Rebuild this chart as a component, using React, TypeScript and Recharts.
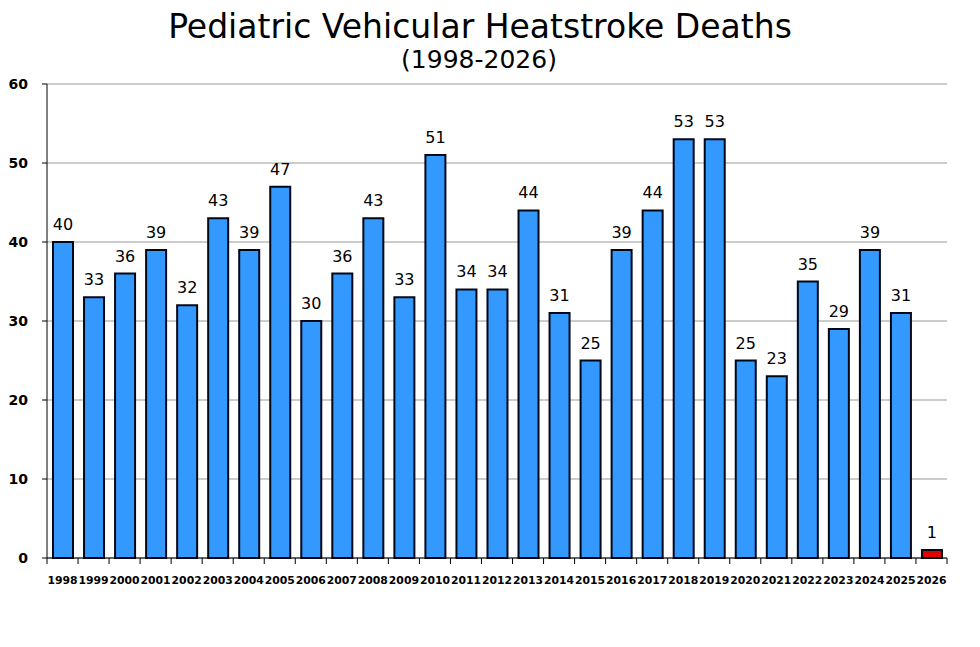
import React from "react";
import {
  BarChart,
  Bar,
  XAxis,
  YAxis,
  CartesianGrid,
  LabelList,
  Cell,
} from "recharts";

const years = [
  "1998", "1999", "2000", "2001", "2002", "2003", "2004", "2005", "2006", "2007",
  "2008", "2009", "2010", "2011", "2012", "2013", "2014", "2015", "2016", "2017",
  "2018", "2019", "2020", "2021", "2022", "2023", "2024", "2025", "2026",
];

const deaths = [
  40, 33, 36, 39, 32, 43, 39, 47, 30, 36,
  43, 33, 51, 34, 34, 44, 31, 25, 39, 44,
  53, 53, 25, 23, 35, 29, 39, 31, 1,
];

const yTicks = [0, 10, 20, 30, 40, 50, 60];

const data = years.map((year, i) => ({ year, deaths: deaths[i] }));

const FONT = "'DejaVu Sans', Verdana, sans-serif";
const PLOT_W = 900;
const BAND = PLOT_W / years.length;

// category ticks sit between the bars, like the original spreadsheet chart
function YearTick(props: any) {
  const { x, y, payload, index } = props;
  const half = BAND / 2;
  return (
    <g>
      <line x1={x - half} y1={y - 8} x2={x - half} y2={y - 2} stroke="#000" />
      {index === years.length - 1 && (
        <line x1={x + half} y1={y - 8} x2={x + half} y2={y - 2} stroke="#000" />
      )}
      <text
        x={x}
        y={y + 18}
        textAnchor="middle"
        fontFamily={FONT}
        fontWeight="bold"
        fontSize={10.8}
        fill="#000"
      >
        {payload.value}
      </text>
    </g>
  );
}

export default function App() {
  return (
    <div style={{ position: "absolute", left: 0, top: 0, width: 980, height: 647, background: "#fff" }}>
      <div
        style={{
          position: "absolute",
          left: 0,
          top: 7,
          width: 960,
          textAlign: "center",
          fontFamily: FONT,
          fontSize: 33,
          color: "#000",
          lineHeight: "40px",
        }}
      >
        Pediatric Vehicular Heatstroke Deaths
      </div>
      <div
        style={{
          position: "absolute",
          left: 0,
          top: 45,
          width: 958,
          textAlign: "center",
          fontFamily: FONT,
          fontSize: 25,
          color: "#000",
          lineHeight: "30px",
        }}
      >
        (1998-2026)
      </div>
      <BarChart
        width={980}
        height={647}
        data={data}
        margin={{ top: 84, right: 33, left: 0, bottom: 0 }}
      >
        <CartesianGrid vertical={false} stroke="#999999" strokeWidth={1} />
        <XAxis
          dataKey="year"
          height={89}
          interval={0}
          tickLine={false}
          axisLine={{ stroke: "#000" }}
          tick={<YearTick />}
        />
        <YAxis
          width={47}
          domain={[0, 60]}
          ticks={yTicks}
          interval={0}
          axisLine={{ stroke: "#000" }}
          tickLine={{ stroke: "#000" }}
          tickSize={5}
          tickMargin={14}
          tick={{ fontFamily: FONT, fontWeight: "bold", fontSize: 14, fill: "#000" }}
        />
        <YAxis
          yAxisId="right"
          orientation="right"
          width={0}
          domain={[0, 60]}
          tick={false}
          tickLine={false}
          axisLine={{ stroke: "#999999" }}
        />
        <Bar
          dataKey="deaths"
          barSize={20}
          fill="#3399ff"
          stroke="#000818"
          strokeWidth={2}
          isAnimationActive={false}
        >
          {data.map((d, i) => (
            <Cell key={d.year} fill={i === data.length - 1 ? "#e00000" : "#3399ff"} />
          ))}
          <LabelList
            dataKey="deaths"
            position="top"
            offset={12}
            style={{ fontFamily: FONT, fontSize: 16, fill: "#000" }}
          />
        </Bar>
      </BarChart>
    </div>
  );
}
